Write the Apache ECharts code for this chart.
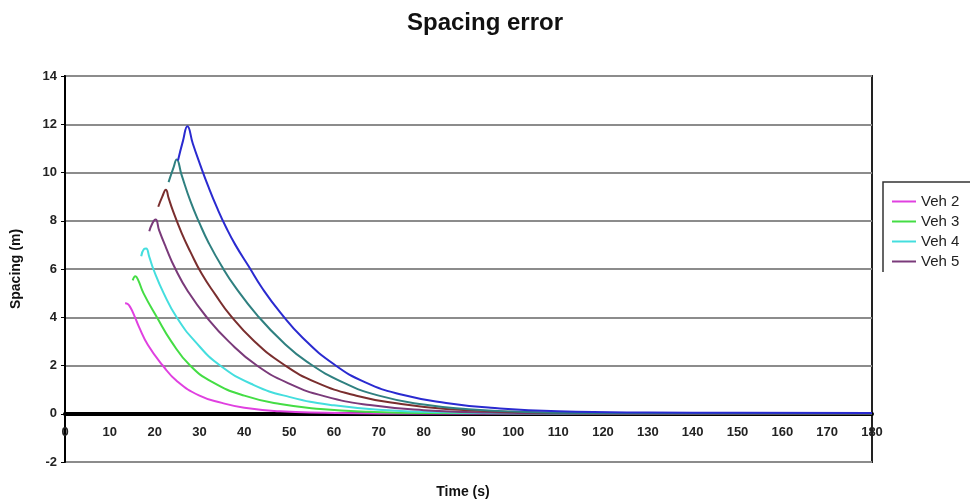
<!DOCTYPE html>
<html>
<head>
<meta charset="utf-8">
<script src="https://cdn.jsdelivr.net/npm/echarts@6/dist/echarts.min.js"></script>
<style>html,body{margin:0;padding:0;background:#fff}#c{width:970px;height:502px}</style>
</head>
<body>
<div id="c"></div>
<script>
// Time (s), spacing error (m) pairs
var veh2 = [[13.4,4.58],[14.0,4.55],[14.6,4.4],[15.5,4.05],[16.5,3.6],[18.5,2.85],[21.8,2.0],[25,1.35],[30,0.75],[35,0.45],[40,0.25],[48,0.1],[58,0.04],[70,0.01],[180,0]];
var veh3 = [[15.1,5.53],[15.7,5.7],[16.3,5.55],[17.5,5.0],[20.5,4.0],[23.7,3.0],[27.9,2.0],[33,1.3],[40,0.75],[48,0.4],[57,0.2],[68,0.08],[80,0.03],[180,0]];
var veh4 = [[17.0,6.53],[17.6,6.82],[18.1,6.85],[18.8,6.5],[19.7,6.0],[22,5.0],[24.9,4.0],[29,3.0],[34.6,2.0],[42,1.2],[50,0.7],[60,0.35],[72,0.15],[85,0.06],[100,0.02],[180,0]];
var veh5 = [[18.8,7.56],[19.5,7.9],[20.2,8.05],[21,7.6],[22.5,6.9],[24.5,6.05],[27.5,5.05],[31.6,4.0],[36.5,3.0],[42.8,2.0],[50,1.25],[58,0.72],[68,0.36],[80,0.15],[95,0.05],[110,0.02],[180,0]];
var veh6 = [[20.8,8.58],[21.7,9.0],[22.5,9.29],[23.1,8.95],[24,8.45],[26,7.5],[28,6.7],[30.5,5.8],[33.5,4.95],[36.8,4.1],[42,3.05],[48.7,2.05],[56,1.3],[65,0.75],[75,0.4],[85,0.2],[100,0.07],[115,0.02],[180,0]];
var veh7 = [[23.1,9.6],[24.2,10.2],[24.9,10.54],[26,9.9],[28,8.8],[30,7.9],[32,7.1],[35,6.1],[38,5.25],[42.8,4.1],[48.7,2.95],[54,2.15],[62,1.3],[70,0.75],[80,0.38],[90,0.19],[100,0.09],[115,0.03],[180,0.01]];
var veh8 = [[25.2,10.5],[26.3,11.3],[27.3,11.92],[28.5,11.2],[30,10.4],[32,9.4],[34,8.5],[36,7.7],[38,7.0],[41,6.1],[44,5.2],[48,4.2],[53,3.15],[60,2.05],[67,1.3],[75,0.8],[85,0.45],[95,0.25],[110,0.1],[130,0.05],[150,0.04],[180,0.03]];

var seriesNames = ['Veh 2','Veh 3','Veh 4','Veh 5','Veh 6','Veh 7','Veh 8'];
var seriesData = [veh2, veh3, veh4, veh5, veh6, veh7, veh8];
var seriesColors = ['#e040e0','#44dd44','#44dede','#7a3a7a','#7a2e2e','#2f8080','#2a2ad0'];
var legendNames = ['Veh 2','Veh 3','Veh 4','Veh 5'];

var chart = echarts.init(document.getElementById('c'));
var font = 'Liberation Sans, Arial, sans-serif';
var series = seriesData.map(function (d, i) {
  return {
    name: seriesNames[i], type: 'line', data: d, showSymbol: false, symbol: 'none',
    smooth: 0.5,
    lineStyle: { color: seriesColors[i], width: 2 },
    itemStyle: { color: seriesColors[i] },
    z: 3
  };
});

chart.setOption({
  animation: false,
  backgroundColor: '#fff',
  title: {
    text: 'Spacing error', left: 'center', top: 6,
    textStyle: { fontFamily: font, fontSize: 24, fontWeight: 'bold', color: '#111' }
  },
  legend: {
    data: legendNames, orient: 'vertical', left: 887, top: 189,
    icon: 'rect', itemWidth: 24, itemHeight: 2, itemGap: 5,
    textStyle: { fontFamily: font, fontSize: 15, color: '#222', lineHeight: 14 }
  },
  graphic: [{
    type: 'polyline', shape: { points: [[883, 272], [883, 182], [970, 182]] },
    style: { stroke: '#333', lineWidth: 1.5, fill: null }
  }, {
    type: 'text', x: 463, y: 492,
    style: { text: 'Time (s)', fill: '#111', font: 'bold 14px Liberation Sans, Arial, sans-serif',
             textAlign: 'center', textVerticalAlign: 'middle' }
  }],
  grid: { left: 65, right: 98, top: 76, bottom: 40, containLabel: false, outerBoundsMode: 'none',
          show: true, borderColor: '#222', borderWidth: 2 },
  xAxis: {
    type: 'value', min: 0, max: 180, interval: 10,
    axisLine: { onZero: true, lineStyle: { color: '#000', width: 4 } },
    axisTick: { show: false },
    axisLabel: { margin: -36, fontFamily: font, fontSize: 13, fontWeight: 'bold', color: '#222' },
    splitLine: { show: false }
  },
  yAxis: {
    type: 'value', min: -2, max: 14, interval: 2,
    name: 'Spacing (m)', nameLocation: 'middle', nameGap: 42, nameRotate: 90,
    nameTextStyle: { fontFamily: font, fontSize: 14, fontWeight: 'bold', color: '#111' },
    axisLine: { show: true, lineStyle: { color: '#000', width: 2 } },
    axisTick: { show: true, length: 4, lineStyle: { color: '#000' } },
    axisLabel: { margin: 8, fontFamily: font, fontSize: 13, fontWeight: 'bold', color: '#222' },
    splitLine: { show: true, lineStyle: { color: '#8c8c8c', width: 2 } }
  },
  series: series
});
</script>
</body>
</html>
